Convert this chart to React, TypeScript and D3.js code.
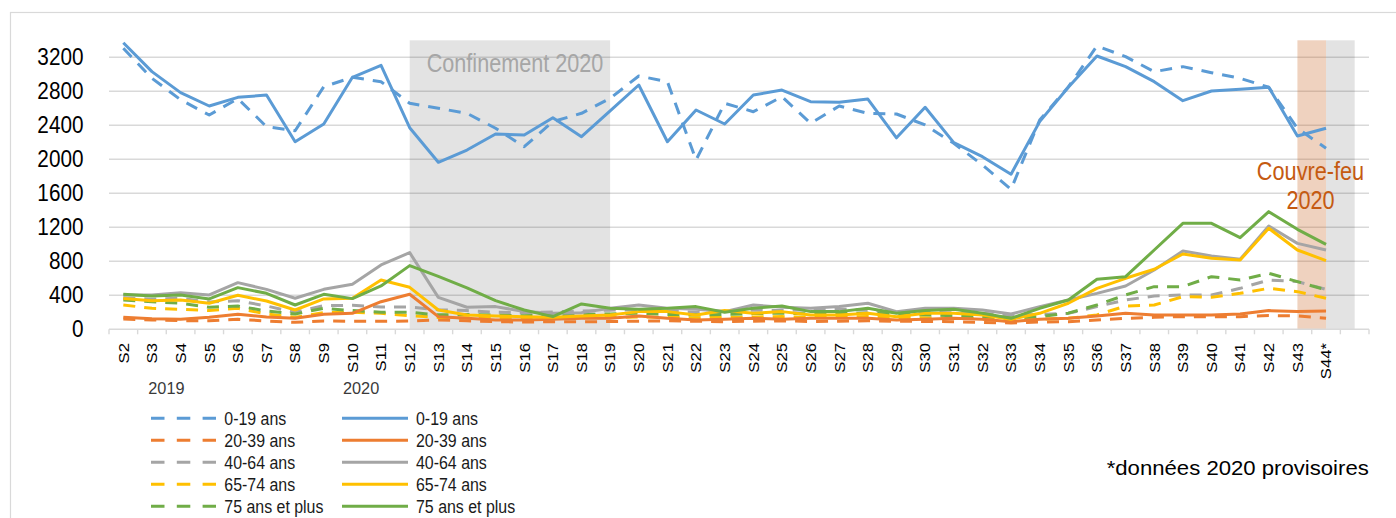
import React from 'react';
import * as d3 from 'd3';

const weeks = ['S2','S3','S4','S5','S6','S7','S8','S9','S10','S11','S12','S13','S14','S15','S16','S17','S18','S19','S20','S21','S22','S23','S24','S25','S26','S27','S28','S29','S30','S31','S32','S33','S34','S35','S36','S37','S38','S39','S40','S41','S42','S43','S44*'];
const axisSlots = [...weeks, ''];
const yTicks = [0, 400, 800, 1200, 1600, 2000, 2400, 2800, 3200];

const ageGroups = ['0-19 ans', '20-39 ans', '40-64 ans', '65-74 ans', '75 ans et plus'];
const groupColors = ['#5b9bd5', '#ed7d31', '#a5a5a5', '#ffc000', '#70ad47'];

// 2019 (dashed)
const a0_19_2019 = [3306,2953,2700,2521,2714,2384,2336,2854,2965,2913,2659,2600,2541,2365,2148,2443,2541,2718,2980,2913,1992,2659,2560,2736,2424,2627,2541,2533,2404,2188,1933,1647,2462,2851,3333,3208,3031,3090,3019,2953,2847,2365,2129];
const a20_39_2019 = [120,110,102,102,118,98,82,98,94,94,98,110,100,90,85,90,88,92,95,100,95,90,95,100,92,95,100,95,92,90,80,75,85,90,110,129,141,149,149,149,161,157,129];
const a40_64_2019 = [370,355,365,320,337,274,200,278,282,263,263,230,220,200,195,205,215,225,230,215,200,210,225,220,230,240,225,200,200,195,185,170,175,188,267,345,392,404,404,482,580,561,470];
const a65_74_2019 = [286,247,235,220,247,180,141,196,200,188,161,140,135,130,128,130,135,140,145,140,135,140,145,150,140,145,150,140,135,130,125,115,120,129,169,274,286,384,376,423,482,443,365];
const a75_2019 = [345,325,306,259,274,216,180,247,220,200,200,170,175,165,160,165,175,180,190,175,170,175,185,190,180,185,190,180,170,160,150,135,150,190,286,404,502,502,619,580,659,561,463];

// 2020 (solid)
const a0_19_2020 = [3372,3031,2784,2627,2729,2756,2207,2415,2965,3106,2372,1965,2109,2298,2286,2489,2266,2570,2874,2207,2580,2415,2756,2815,2678,2671,2709,2253,2612,2196,2031,1824,2443,2847,3215,3090,2913,2690,2804,2824,2847,2274,2365];
const a20_39_2020 = [141,125,118,141,176,145,129,176,188,325,412,149,129,110,110,118,129,129,157,129,110,118,129,118,129,129,129,110,118,129,118,90,118,129,157,188,169,169,169,180,220,208,216];
const a40_64_2020 = [404,404,431,404,549,470,365,470,529,757,902,376,259,267,208,188,196,247,286,247,235,208,286,259,247,267,306,208,247,247,227,180,267,345,423,510,698,921,862,823,1215,1011,933];
const a65_74_2020 = [361,337,345,306,400,333,227,357,365,580,494,227,169,157,149,141,157,169,208,208,169,220,188,208,169,169,188,149,188,188,169,118,188,306,482,600,706,886,835,815,1188,933,808];
const a75_2020 = [412,392,404,357,490,423,286,412,361,510,749,622,488,337,227,149,298,247,235,247,267,200,247,274,208,208,247,188,220,235,188,129,247,345,588,619,933,1247,1247,1078,1384,1176,1000];

const data2019 = [a0_19_2019, a20_39_2019, a40_64_2019, a65_74_2019, a75_2019];
const data2020 = [a0_19_2020, a20_39_2020, a40_64_2020, a65_74_2020, a75_2020];

const FONT = 'Liberation Sans, Arial, sans-serif';

function T(props: any) {
  const { x, y, size, sx = 1, anchor = 'start', fill = '#000', rotate = false, children } = props;
  return (
    <text
      transform={`translate(${x},${y})${rotate ? ' rotate(-90)' : ''} scale(${sx},1)`}
      fontSize={size}
      fontFamily={FONT}
      textAnchor={anchor}
      fill={fill}
    >
      {children}
    </text>
  );
}

export default function App() {
  const W = 1396, H = 518;
  const x = d3.scaleBand<string>().domain(axisSlots).range([109, 1369]).padding(0);
  const bw = x.bandwidth();
  const cx = (c: string) => (x(c) as number) + bw / 2;
  const y = d3.scaleLinear().domain([0, 3400]).range([329.3, 40.3]);
  const line = d3.line<number>().x((_, i) => cx(weeks[i])).y((d) => y(d));

  const tickXs = [...axisSlots.map((c) => x(c) as number), x.range()[1]];
  const yTop = y(3400), yBot = y(0);

  const legendRowY = (i: number) => 418.3 + i * 22;

  return (
    <svg width={W} height={H} style={{ position: 'absolute', left: 0, top: 0, background: '#fff' }}>
      <rect x={10.5} y={12.5} width={1400} height={520} fill="#fff" stroke="#d9d9d9" strokeWidth={1.2} />

      {/* gridlines */}
      {yTicks.slice(1).map((t) => (
        <line key={t} x1={109} x2={1369} y1={y(t)} y2={y(t)} stroke="#d9d9d9" strokeWidth={1.4} />
      ))}

      {/* shaded periods */}
      <rect x={cx('S12')} y={yTop} width={cx('S19') - cx('S12')} height={yBot - yTop} fill="#000" fillOpacity={0.11} />
      <rect x={cx('S43')} y={yTop} width={cx('S44*') - cx('S43')} height={yBot - yTop} fill="#c55a11" fillOpacity={0.27} />
      <rect x={cx('S44*')} y={yTop} width={cx('') - cx('S44*')} height={yBot - yTop} fill="#000" fillOpacity={0.11} />

      <T x={426.7} y={71.7} size={25.6} sx={0.845} fill="#a6a6a6">Confinement 2020</T>

      {/* axis */}
      <line x1={109} x2={1369} y1={yBot} y2={yBot} stroke="#d9d9d9" strokeWidth={1.4} />
      {tickXs.map((tx, i) => (
        <line key={i} x1={tx} x2={tx} y1={yBot} y2={yBot + 5} stroke="#d9d9d9" strokeWidth={1.4} />
      ))}

      {/* y labels */}
      {yTicks.map((t) => (
        <T key={t} x={83.5} y={y(t) + 7.7} size={24.7} sx={0.84} anchor="end">{String(t)}</T>
      ))}

      {/* x labels */}
      {weeks.map((w) => (
        <T key={w} x={cx(w) + 5.3} y={343} size={14.9} sx={1.12} anchor="end" rotate>{w}</T>
      ))}

      {/* 2019 dashed */}
      {data2019.map((d, i) => (
        <path key={'a' + i} d={line(d) as string} fill="none" stroke={groupColors[i]} strokeWidth={3} strokeDasharray="12,9" strokeLinejoin="round" />
      ))}
      {/* 2020 solid */}
      {data2020.map((d, i) => (
        <path key={'b' + i} d={line(d) as string} fill="none" stroke={groupColors[i]} strokeWidth={3} strokeLinejoin="round" />
      ))}

      <T x={1310.5} y={180} size={25.6} sx={0.847} anchor="middle" fill="#c55a11">Couvre-feu</T>
      <T x={1310.5} y={209.3} size={25.6} sx={0.847} anchor="middle" fill="#c55a11">2020</T>

      {/* legend */}
      <T x={148.3} y={394} size={16.3} fill="#3a3a3a">2019</T>
      <T x={343} y={394} size={16.3} fill="#3a3a3a">2020</T>
      {ageGroups.map((g, i) => (
        <g key={g}>
          <line x1={151} x2={216} y1={legendRowY(i)} y2={legendRowY(i)} stroke={groupColors[i]} strokeWidth={3} strokeDasharray="13.5,12.3" />
          <T x={224.3} y={legendRowY(i) + 6.5} size={17.7} sx={0.9} fill="#1a1a1a">{g}</T>
          <line x1={342} x2={408} y1={legendRowY(i)} y2={legendRowY(i)} stroke={groupColors[i]} strokeWidth={3} />
          <T x={416} y={legendRowY(i) + 6.5} size={17.7} sx={0.9} fill="#1a1a1a">{g}</T>
        </g>
      ))}

      <T x={1106.7} y={475} size={20.5} sx={1.08}>*données 2020 provisoires</T>
    </svg>
  );
}
